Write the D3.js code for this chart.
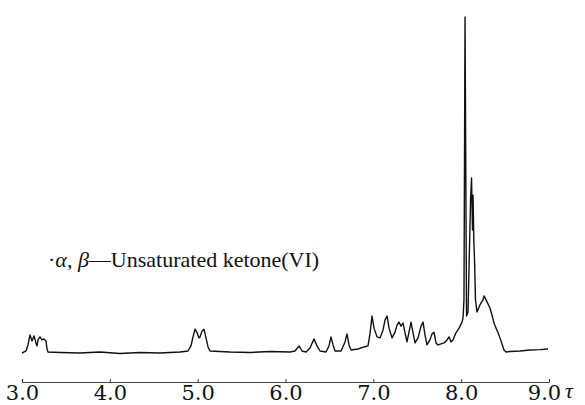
<!DOCTYPE html>
<html>
<head>
<meta charset="utf-8">
<script src="https://cdn.jsdelivr.net/npm/d3@7"></script>
<style>
  html, body { margin: 0; padding: 0; background: #fff; }
  svg { display: block; }
</style>
</head>
<body>
<svg id="chart" width="585" height="405"></svg>
<script>
// chemical shift (tau, ppm)
const tau = [
  3.000, 3.046, 3.068, 3.091, 3.114, 3.137, 3.159, 3.171, 3.182, 3.205, 3.228, 3.250, 3.273, 3.285, 3.296,
  3.433, 3.660, 3.888, 4.116, 4.343, 4.571, 4.799, 4.890,
  4.924, 4.947, 4.970, 4.993, 5.015, 5.027, 5.049, 5.072, 5.095, 5.118, 5.140,
  5.368, 5.596, 5.824, 6.051, 6.108,
  6.154, 6.188, 6.234,
  6.279, 6.325, 6.359, 6.393, 6.461,
  6.495, 6.518, 6.541, 6.564, 6.632,
  6.678, 6.700, 6.723, 6.746, 6.826, 6.894, 6.939,
  6.962, 6.985, 7.008, 7.042, 7.076, 7.110, 7.133, 7.156, 7.179, 7.213, 7.247, 7.270, 7.292, 7.315, 7.338,
  7.361, 7.383, 7.406, 7.429, 7.452, 7.475, 7.509, 7.543, 7.566, 7.588, 7.611, 7.645, 7.668, 7.691, 7.714,
  7.736, 7.771, 7.805, 7.839, 7.862, 7.884, 7.907, 7.941, 7.976, 8.010, 8.021,
  8.032, 8.044, 8.061, 8.078, 8.107, 8.118, 8.129, 8.135, 8.144, 8.152, 8.163, 8.180,
  8.214, 8.248, 8.260, 8.283, 8.306, 8.328, 8.351, 8.374, 8.397, 8.420, 8.442, 8.465, 8.488, 8.511,
  8.556, 8.670, 8.784, 8.898, 8.989
];
// relative signal intensity (tallest peak = 100)
const intensity = [
  0, 0.6, 2.4, 5.4, 3.6, 5.1, 3.0, 2.1, 3.9, 4.8, 3.9, 4.2, 3.6, 1.2, 0.3,
  0.15, 0, 0.3, -0.15, 0.15, 0, 0.3, 0.6,
  2.1, 4.8, 7.1, 6.0, 4.5, 4.8, 6.5, 7.1, 4.5, 1.8, 0.6,
  0.3, 0.15, 0.45, 0.3, 0.6,
  2.1, 0.6, 0.3,
  1.5, 4.2, 2.1, 0.6, 0.3,
  2.1, 4.8, 2.4, 0.6, 0.6,
  3.3, 5.7, 2.4, 0.9, 1.2, 1.8, 2.1,
  5.7, 11.0, 7.4, 4.8, 4.5, 6.8, 9.8, 11.0, 7.4, 4.5, 6.2, 8.3, 9.2, 8.0, 8.9,
  6.0, 3.3, 6.2, 9.2, 6.0, 3.0, 4.5, 8.0, 9.2, 5.4, 2.4, 3.9, 5.7, 6.2, 3.0,
  2.4, 2.7, 3.0, 3.9, 4.8, 3.3, 3.9, 6.0, 7.4, 9.2, 10.4,
  15.8, 100, 11.0, 12.2, 45.5, 52.1, 36.6, 47.0, 33.6, 27.7, 15.8, 12.2,
  14.3, 15.8, 17.0, 15.8, 14.6, 13.4, 11.3, 8.9, 7.4, 6.0, 4.5, 2.7, 0.9, 0.3,
  0.45, 0.6, 0.9, 1.0, 1.2
];
const tickValues = [3, 4, 5, 6, 7, 8, 9];
const axisUnit = "τ";
const titleParts = [
  { text: "·", italic: false },
  { text: "α", italic: true },
  { text: ", ", italic: false },
  { text: "β", italic: true },
  { text: "—Unsaturated ketone(VI)", italic: false }
];

const svg = d3.select("#chart");
const x = d3.scaleLinear().domain([3, 9]).range([22, 549]);
const y = d3.scaleLinear().domain([0, 100]).range([353, 17]);

const points = tau.map((t, i) => [t, intensity[i]]);

svg.append("path")
  .datum(points)
  .attr("fill", "none")
  .attr("stroke", "#111")
  .attr("stroke-width", 1.4)
  .attr("stroke-linejoin", "round")
  .attr("d", d3.line().x(d => x(d[0])).y(d => y(d[1])));

const axis = d3.axisBottom(x)
  .tickValues(tickValues)
  .tickFormat(d3.format(".1f"))
  .tickSizeInner(-3)
  .tickSizeOuter(0)
  .tickPadding(3);

const gAxis = svg.append("g")
  .attr("transform", "translate(0,382)")
  .call(axis);
gAxis.select(".domain").attr("stroke", "#444").attr("stroke-width", 1);
gAxis.selectAll(".tick line").attr("stroke", "#333");
gAxis.selectAll(".tick text")
  .attr("fill", "#111")
  .attr("dx", d => d === 9 ? -5 : 0)
  .style("font-family", "'DejaVu Serif', 'Liberation Serif', serif")
  .style("font-size", "21px");

svg.append("text")
  .attr("x", 565)
  .attr("y", 398)
  .attr("fill", "#111")
  .style("font-family", "'Liberation Serif', 'DejaVu Serif', serif")
  .style("font-style", "italic")
  .style("font-size", "22px")
  .text(axisUnit);

const title = svg.append("text")
  .attr("x", 48)
  .attr("y", 267)
  .attr("fill", "#111")
  .style("font-family", "'Liberation Serif', 'DejaVu Serif', serif")
  .style("font-size", "22px");
title.selectAll("tspan")
  .data(titleParts)
  .join("tspan")
  .style("font-style", d => d.italic ? "italic" : "normal")
  .text(d => d.text);
</script>
</body>
</html>
